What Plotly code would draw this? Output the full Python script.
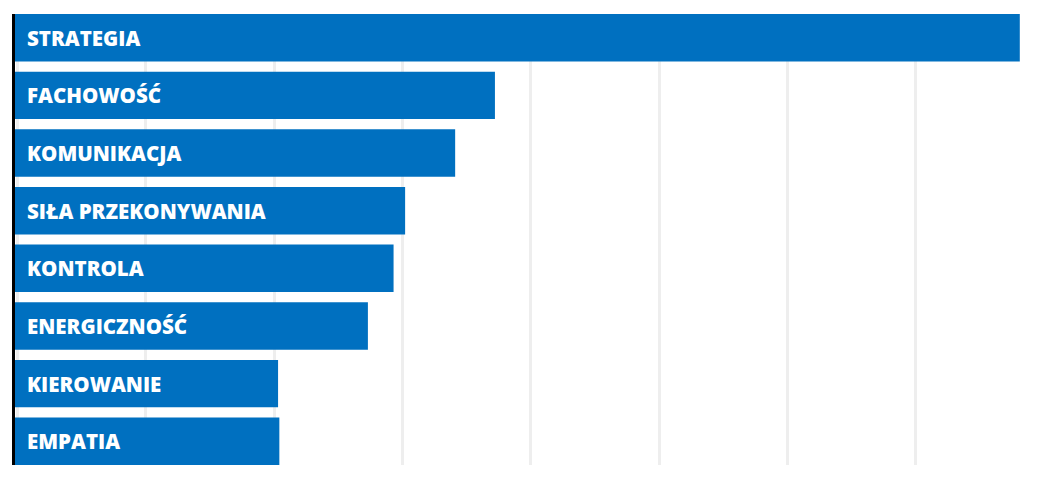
import plotly.graph_objects as go

categories = ["STRATEGIA", "FACHOWOŚĆ", "KOMUNIKACJA", "SIŁA PRZEKONYWANIA",
              "KONTROLA", "ENERGICZNOŚĆ", "KIEROWANIE", "EMPATIA"]
values = [39.15, 18.7, 17.15, 15.2, 14.75, 13.75, 10.25, 10.3]

BAR_COLOR = "#0070C0"

fig = go.Figure()
fig.add_trace(go.Bar(
    x=values,
    y=categories,
    orientation="h",
    marker=dict(color=BAR_COLOR, line=dict(width=0)),
    hoverinfo="x+y",
))

annotations = [
    dict(x=0, y=c, xref="x", yref="y", text=c, showarrow=False,
         xanchor="left", yanchor="middle", xshift=10,
         font=dict(family="Open Sans", size=20.5, color="white", weight=800))
    for c in categories
]

fig.update_layout(
    width=1037, height=484,
    margin=dict(l=15, r=0, t=14, b=19),
    paper_bgcolor="white", plot_bgcolor="white",
    showlegend=False,
    bargap=0.177,
    annotations=annotations,
    xaxis=dict(range=[0, 39.82], showticklabels=False, ticks="",
               showgrid=True, gridcolor="#EEEEEE", gridwidth=2.5,
               tick0=0.1, dtick=5, zeroline=False, showline=False),
    yaxis=dict(type="category", categoryorder="array", categoryarray=categories,
               range=[7.4115, -0.4115], showticklabels=False, ticks="",
               showgrid=False, zeroline=False,
               showline=True, linecolor="black", linewidth=3),
)

fig.write_html("out.html", config={"displayModeBar": False},
               post_script="document.body.style.margin='0';document.body.style.overflow='hidden';")
